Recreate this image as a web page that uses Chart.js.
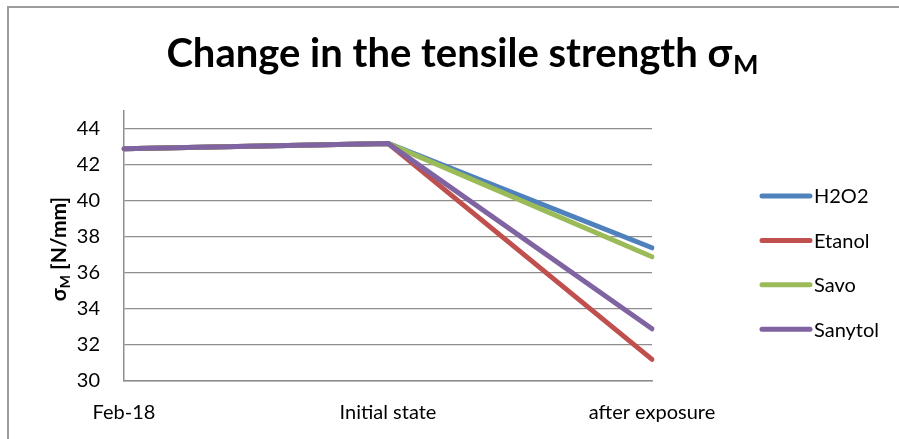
<!DOCTYPE html>
<html>
<head>
<meta charset="utf-8">
<script src="https://cdn.jsdelivr.net/npm/chart.js@4/dist/chart.umd.min.js"></script>
<style>
  html, body { margin: 0; padding: 0; background: #fff; overflow: hidden; }
  #frame { position: absolute; left: 7px; top: 6px; width: 1000px; height: 1000px;
           border-top: 2px solid #9c9c9c; border-left: 2px solid #9c9c9c; }
  #c { position: absolute; left: 0; top: 0; }
</style>
</head>
<body>
<div id="frame"></div>
<canvas id="c" width="899" height="439"></canvas>
<script>
// Tensile strength (N/mm) per measurement stage
const categories = ['Feb-18', 'Initial state', 'after exposure'];
const h2o2    = [42.9, 43.2, 37.4];
const etanol  = [42.9, 43.2, 31.2];
const savo    = [42.9, 43.2, 36.9];
const sanytol = [42.9, 43.2, 32.9];
const seriesNames = ['H2O2', 'Etanol', 'Savo', 'Sanytol'];
const yTicks = [30, 32, 34, 36, 38, 40, 42, 44];

const colors = ['#4F81BD', '#C0504D', '#9BBB59', '#8064A2'];
const FONT = 'Lato, "Open Sans", sans-serif';
const GRID = '#8e8e8e';

// Title with subscript, y-axis title and legend, drawn onto the canvas
const titlePlugin = {
  id: 'subTitle',
  afterDraw(chart) {
    const ctx = chart.ctx;
    ctx.save();
    ctx.fillStyle = '#000';
    ctx.textBaseline = 'alphabetic';
    const main = 'Change in the tensile strength \u03C3';
    const sub = 'M';
    ctx.font = 'bold 40px ' + FONT;
    const wMain = ctx.measureText(main).width;
    ctx.font = 'bold 27px ' + FONT;
    const wSub = ctx.measureText(sub).width;
    const cx = 462, base = 67;
    let x = cx - (wMain + wSub) / 2;
    ctx.font = 'bold 40px ' + FONT;
    ctx.fillText(main, x, base);
    ctx.font = 'bold 27px ' + FONT;
    ctx.fillText(sub, x + wMain + 1, base + 7);

    // y-axis title, rotated
    ctx.translate(66, 249);
    ctx.rotate(-Math.PI / 2);
    const a = '\u03C3', b = 'M', c = ' [N/mm]';
    ctx.font = 'bold 21px ' + FONT;
    const wa = ctx.measureText(a).width, wc = ctx.measureText(c).width;
    ctx.font = 'bold 14px ' + FONT;
    const wb = ctx.measureText(b).width;
    let tx = -(wa + wb + wc) / 2;
    ctx.font = 'bold 21px ' + FONT;
    ctx.fillText(a, tx, 0);
    ctx.font = 'bold 14px ' + FONT;
    ctx.fillText(b, tx + wa, 4);
    ctx.font = 'bold 21px ' + FONT;
    ctx.fillText(c, tx + wa + wb, 0);
    ctx.restore();

    // legend on the right
    const area = chart.chartArea;
    ctx.save();
    ctx.lineCap = 'round';
    ctx.lineWidth = 5;
    ctx.font = '20px ' + FONT;
    ctx.textBaseline = 'middle';
    chart.data.datasets.forEach((ds, i) => {
      const y = 196 + i * 44.4;
      const x0 = area.right + 110;
      ctx.strokeStyle = ds.borderColor;
      ctx.beginPath();
      ctx.moveTo(x0, y);
      ctx.lineTo(x0 + 48, y);
      ctx.stroke();
      ctx.fillStyle = '#000';
      ctx.fillText(ds.label, x0 + 52, y + 1);
    });
    ctx.restore();
  }
};

const seriesData = [h2o2, etanol, savo, sanytol];

new Chart(document.getElementById('c'), {
  type: 'line',
  data: {
    labels: categories,
    datasets: seriesNames.map((name, i) => ({
      label: name,
      data: seriesData[i],
      borderColor: colors[i],
      backgroundColor: colors[i],
      borderWidth: 5,
      pointRadius: 0,
      tension: 0,
      borderCapStyle: 'round',
      borderJoinStyle: 'round',
      order: seriesNames.length - i
    }))
  },
  options: {
    responsive: false,
    devicePixelRatio: 1,
    animation: false,
    layout: { padding: { top: 111, right: 247, bottom: 15, left: 0 } },
    plugins: { legend: { display: false }, title: { display: false }, tooltip: { enabled: false } },
    scales: {
      x: {
        type: 'category',
        offset: false,
        afterFit(scale) { scale.height = 43; },
        grid: { display: false, drawTicks: false },
        border: { display: true, color: GRID, width: 1.5 },
        ticks: { color: '#000', font: { family: FONT, size: 20 }, padding: 20,
                 maxRotation: 0, autoSkip: false }
      },
      y: {
        min: 30,
        max: 45,
        afterBuildTicks(scale) { scale.ticks = yTicks.map(v => ({ value: v })); },
        afterFit(scale) { scale.width = 124; },
        grid: { color: GRID, lineWidth: 1.2, drawTicks: false },
        border: { display: true, color: GRID, width: 1.5 },
        ticks: { color: '#000', font: { family: FONT, size: 20 }, padding: 24 }
      }
    }
  },
  plugins: [titlePlugin]
});
</script>
</body>
</html>
